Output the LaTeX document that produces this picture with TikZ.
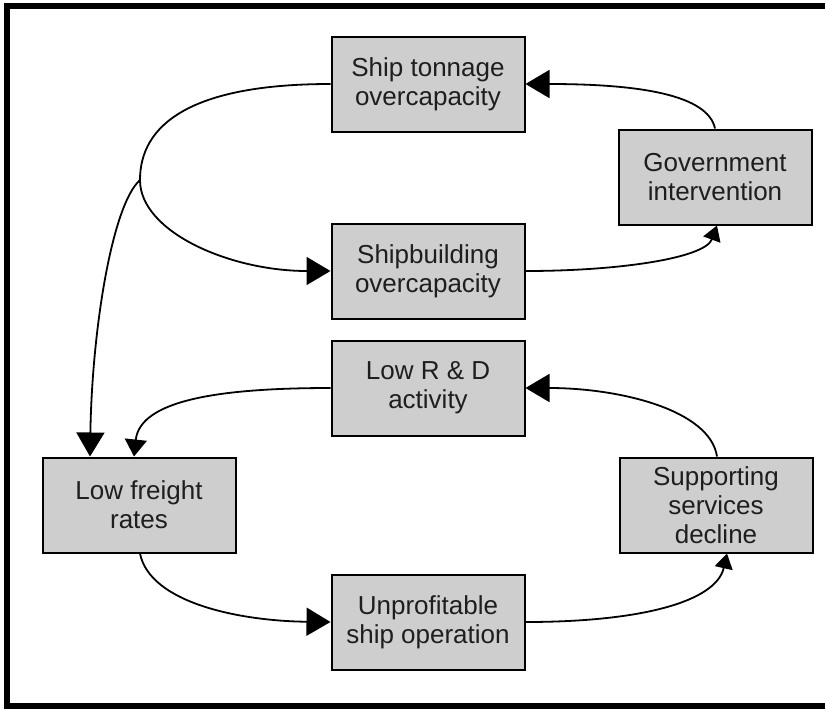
\documentclass[tikz,border=0pt]{standalone}
\usepackage{fontspec}
\setmainfont{Liberation Sans}
\usetikzlibrary{arrows.meta,calc}
\definecolor{boxfill}{RGB}{206,206,206}
\definecolor{inkgray}{RGB}{30,30,30}
\begin{document}
\begin{tikzpicture}[x=1pt,y=-1pt,
  factor/.style={draw=black, line width=2pt, fill=boxfill,
    minimum width=193pt, minimum height=95pt, inner sep=0pt,
    align=center, text=inkgray, font=\fontsize{26}{29}\selectfont},
  link/.style={line width=1.8pt, draw=black},
  bighead/.style={link, -{Triangle[length=24pt,width=28pt]}},
  midhead/.style={link, -{Triangle[length=17pt,width=22pt]}},
  smallhead/.style={link, -{Triangle[length=15pt,width=18pt]}},
]
\useasboundingbox (0,0) rectangle (825,710);

% outer frame (open on the right)
\draw[line width=5.5pt] (825,6) -- (7,6) -- (7,706) -- (825,706);

% factors
\node[factor] (tonnage) at (428,84)  {Ship tonnage\\overcapacity};
\node[factor] (gov)     at (715,177) {Government\\intervention};
\node[factor] (shipb)   at (428,271) {Shipbuilding\\overcapacity};
\node[factor] (rd)      at (428,388) {Low R \& D\\activity};
\node[factor] (freight) at (139,505) {Low freight\\rates};
\node[factor] (support) at (716,505) {Supporting\\services\\decline};
\node[factor] (unprof)  at (428,622) {Unprofitable\\ship operation};

% branching point on the upper left loop
\coordinate (split) at (140,180);

% upper cycle
\draw[bighead] (gov.north) .. controls (708,95) and (640,84) .. (tonnage.east);
\draw[link] (tonnage.west) .. controls (190,84) and (140,125) .. (split);
\draw[bighead] (split) .. controls (140,232) and (230,271) .. (shipb.west);
\draw[smallhead] (shipb.east) .. controls (620,271) and (705,258) .. ($(gov.south)+(2,0)$);
\draw[bighead] (split) .. controls (112,205) and (92,330) .. ($(freight.north)+(-49,0)$);

% lower cycle
\draw[bighead] ($(support.north)+(1,0)$) .. controls (710,410) and (620,388) .. (rd.east);
\draw[midhead] (rd.west) .. controls (220,388) and (140,400) .. ($(freight.north)+(-5,0)$);
\draw[bighead] ($(freight.south)+(1,0)$) .. controls (150,603) and (240,621) .. (unprof.west);
\draw[smallhead] (unprof.east) .. controls (640,622) and (716,602) .. ($(support.south)+(11,0)$);
\end{tikzpicture}
\end{document}
